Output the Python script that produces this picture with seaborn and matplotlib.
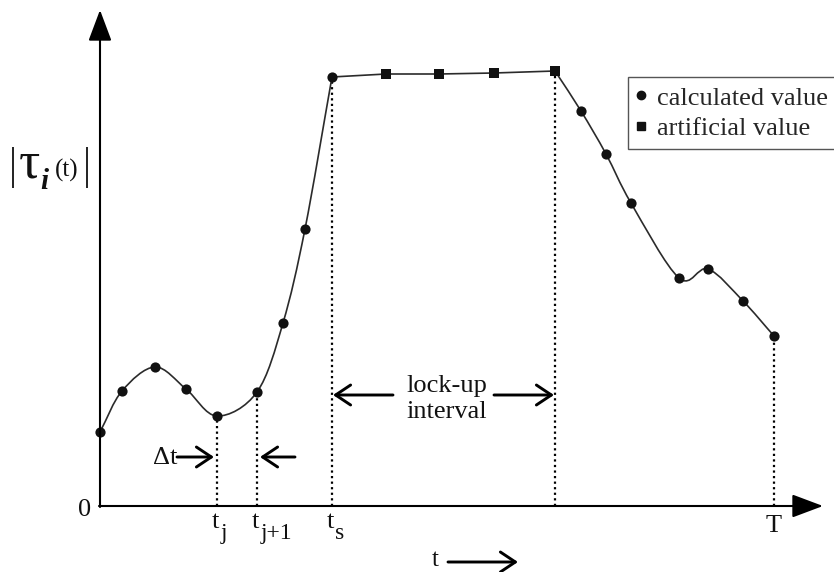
import numpy as np
import pandas as pd
import matplotlib
matplotlib.use("Agg")
import matplotlib.pyplot as plt
from matplotlib.path import Path
from matplotlib.patches import PathPatch
from matplotlib.lines import Line2D
import seaborn as sns

# Torque magnitude samples |tau_i(t)| (arbitrary units)
t_rise = [0.0, 2.2, 5.5, 8.6, 11.7, 15.7, 18.3, 20.5, 23.2]
tau_rise = [7.4, 11.5, 13.9, 11.7, 9.0, 11.4, 18.3, 27.7, 42.9]
# artificial values inside the lock-up interval
t_lock = [28.6, 33.9, 39.4, 45.5]
tau_lock = [43.2, 43.2, 43.3, 43.5]
# calculated values after the lock-up interval
t_fall = [48.1, 50.6, 53.1, 57.9, 60.8, 64.3, 67.4]
tau_fall = [39.5, 35.2, 30.3, 22.8, 23.7, 20.5, 17.0]

legend_labels = ["calculated value", "artificial value"]

sns.set_theme(style="white")
plt.rcParams["font.family"] = ["Liberation Serif", "DejaVu Serif"]

INK = "#111111"
CURVE = "#2b2b2b"
FS = 19


def smooth_segments(xs, ys):
    """Cubic Bezier pieces (Catmull-Rom tangents) passing through every sample."""
    pts = np.column_stack([xs, ys]).astype(float)
    tang = np.zeros_like(pts)
    tang[0] = pts[1] - pts[0]
    tang[-1] = pts[-1] - pts[-2]
    tang[1:-1] = (pts[2:] - pts[:-2]) / 2.0
    verts, codes = [pts[0]], [Path.MOVETO]
    for i in range(len(pts) - 1):
        verts += [pts[i] + tang[i] / 3.0, pts[i + 1] - tang[i + 1] / 3.0, pts[i + 1]]
        codes += [Path.CURVE4] * 3
    return verts, codes


fig = plt.figure(figsize=(8.34, 5.72), dpi=100)
ax = fig.add_axes([0, 0, 1, 1])
ax.set_xlim(-10.0, 73.4)
ax.set_ylim(-6.6, 50.6)
ax.axis("off")

# curve: smooth rise, straight lock-up, smooth fall
v1, c1 = smooth_segments(t_rise, tau_rise)
v2 = [np.array([x, y]) for x, y in zip(t_lock, tau_lock)]
c2 = [Path.LINETO] * len(v2)
v3, c3 = smooth_segments([t_lock[-1]] + t_fall, [tau_lock[-1]] + tau_fall)
path = Path(np.array(v1 + v2 + v3[1:]), c1 + c2 + c3[1:])
ax.add_patch(PathPatch(path, fill=False, edgecolor=CURVE, lw=1.2, zorder=2))

calc = pd.DataFrame({"t": t_rise + t_fall, "tau": tau_rise + tau_fall})
art = pd.DataFrame({"t": t_lock, "tau": tau_lock})
sns.scatterplot(data=calc, x="t", y="tau", marker="o", s=54, color=INK,
                edgecolor=INK, linewidth=0, ax=ax, zorder=3, legend=False)
sns.scatterplot(data=art, x="t", y="tau", marker="s", s=56, color=INK,
                edgecolor=INK, linewidth=0, ax=ax, zorder=3, legend=False)
ax.set_xlabel("")
ax.set_ylabel("")

# dotted guides down to the time axis
guide_t = [t_rise[4], t_rise[5], t_rise[8], t_lock[-1], t_fall[-1]]
guide_v = [tau_rise[4], tau_rise[5], tau_rise[8], tau_lock[-1], tau_fall[-1]]
ax.vlines(guide_t, 0, guide_v, colors="black", linestyles=(0, (1, 1.5)), lw=1.6, zorder=1)

# axes with arrow heads
axis_arrow = dict(arrowstyle="-|>,head_length=1.6,head_width=0.6", lw=1.5,
                  color="black", shrinkA=0, shrinkB=0)
ax.annotate("", xy=(72.3, 0), xytext=(-0.1, 0), arrowprops=axis_arrow)
ax.annotate("", xy=(0, 49.6), xytext=(0, -0.1), arrowprops=axis_arrow)

ax.text(-0.9, -0.4, "0", ha="right", va="center", fontsize=FS, color=INK)

# time labels under the guides
for tx, sub in [(t_rise[4], "j"), (t_rise[5], "j+1"), (t_rise[8], "s")]:
    ax.text(tx - 0.55, -0.5, "t", ha="left", va="top", fontsize=FS, color=INK)
    ax.text(tx + 0.35, -1.7, sub, ha="left", va="top", fontsize=17, color=INK)
ax.text(t_fall[-1], -0.9, "T", ha="center", va="top", fontsize=FS, color=INK)

# t --> under the axis
ax.text(33.5, -5.4, "t", ha="center", va="center", fontsize=18, color=INK)
open_arrow = dict(arrowstyle="->,head_length=0.9,head_width=0.6", lw=2.1,
                  color="black", shrinkA=0, shrinkB=0)
ax.annotate("", xy=(41.8, -5.6), xytext=(34.8, -5.6), arrowprops=open_arrow)

# sampling step
ax.text(7.7, 4.8, "\u0394t", ha="right", va="center", fontsize=FS, color=INK)
ax.annotate("", xy=(11.4, 4.9), xytext=(7.7, 4.9), arrowprops=open_arrow)
ax.annotate("", xy=(16.0, 4.9), xytext=(19.5, 4.9), arrowprops=open_arrow)

# lock-up interval
ax.text(34.7, 10.7, "lock-up\ninterval", ha="center", va="center", fontsize=FS,
        color=INK, linespacing=1.2)
ax.annotate("", xy=(23.3, 11.1), xytext=(29.3, 11.1), arrowprops=open_arrow)
ax.annotate("", xy=(45.4, 11.1), xytext=(39.4, 11.1), arrowprops=open_arrow)

# vertical axis title |tau_i(t)|
ax.vlines([-8.7, -1.3], 31.8, 35.9, colors=INK, lw=1.3)
ax.text(-8.1, 32.9, "\u03c4", ha="left", va="baseline", fontsize=38, color=INK)
ax.text(-6.0, 31.7, "i", ha="left", va="baseline", fontsize=21, color=INK,
        fontweight="bold", fontstyle="italic")
ax.text(-3.3, 32.9, "(t)", ha="center", va="baseline", fontsize=18, color=INK)

handles = [
    Line2D([], [], ls="none", marker="o", markersize=6, color=INK, label=legend_labels[0]),
    Line2D([], [], ls="none", marker="s", markersize=6, color=INK, label=legend_labels[1]),
]
leg = ax.legend(handles=handles, loc="upper left",
                bbox_to_anchor=(628 / 834, 1 - 77 / 572), bbox_transform=fig.transFigure,
                borderaxespad=0, frameon=True, fancybox=False, framealpha=1,
                edgecolor="#555555", handlelength=0.3, handletextpad=0.45,
                borderpad=0.35, labelspacing=0.25, prop={"size": FS})
leg.get_frame().set_linewidth(1.0)

fig.savefig("out.png", dpi=100)
